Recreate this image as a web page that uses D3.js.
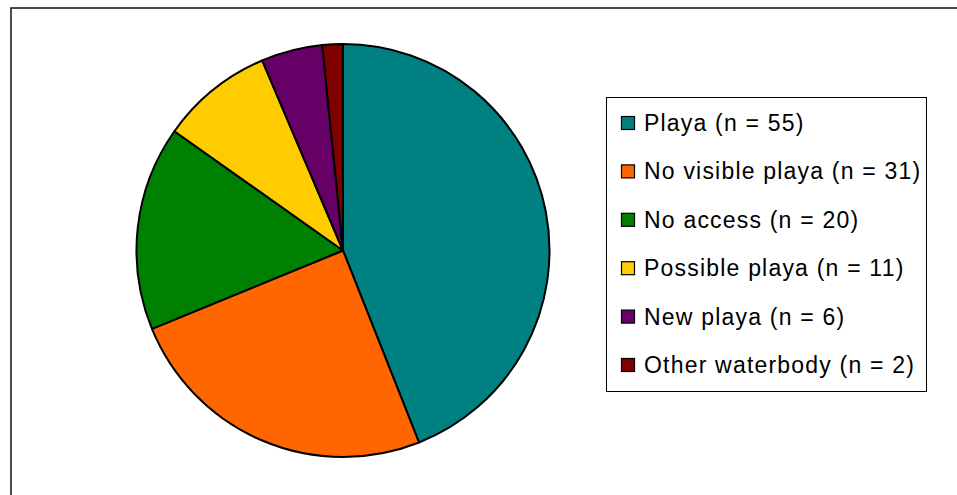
<!DOCTYPE html>
<html>
<head>
<meta charset="utf-8">
<script src="https://cdn.jsdelivr.net/npm/d3@7/dist/d3.min.js"></script>
<style>
  html, body { margin: 0; padding: 0; background: #fff; }
  svg { display: block; }
</style>
</head>
<body>
<script>
// Site classification counts
const categories = ["Playa", "No visible playa", "No access", "Possible playa", "New playa", "Other waterbody"];
const counts = [55, 31, 20, 11, 6, 2];
const colors = ["#008080", "#FF6600", "#008000", "#FFCC00", "#660066", "#800000"];

const W = 957, H = 495;
const svg = d3.select("body").append("svg").attr("width", W).attr("height", H);

// outer frame (extends past the right and bottom edges)
svg.append("rect")
  .attr("x", 11).attr("y", 8)
  .attr("width", 1000).attr("height", 600)
  .attr("fill", "none").attr("stroke", "#111").attr("stroke-width", 1.5);

const data = categories.map((c, i) => ({ name: c, value: counts[i], color: colors[i] }));

// pie, clockwise from 12 o'clock
const cx = 343, cy = 250.5, r = 206.5;
const pie = d3.pie().value(d => d.value).sort(null);
const arc = d3.arc().innerRadius(0).outerRadius(r);

svg.append("g")
  .attr("transform", `translate(${cx},${cy})`)
  .selectAll("path")
  .data(pie(data))
  .join("path")
  .attr("d", arc)
  .attr("fill", d => d.data.color)
  .attr("stroke", "#000")
  .attr("stroke-width", 2)
  .attr("stroke-linejoin", "round");

// legend
const lg = svg.append("g");
lg.append("rect")
  .attr("x", 606.5).attr("y", 97.5)
  .attr("width", 320).attr("height", 294)
  .attr("fill", "#fff").attr("stroke", "#000").attr("stroke-width", 1);

const rowY = d3.scalePoint().domain(categories).range([123, 365]);

const items = lg.selectAll("g.item").data(data).join("g")
  .attr("class", "item")
  .attr("transform", d => `translate(0,${rowY(d.name)})`);

items.append("rect")
  .attr("x", 621.5).attr("y", -6.5)
  .attr("width", 13).attr("height", 13)
  .attr("fill", d => d.color)
  .attr("stroke", "#000").attr("stroke-width", 1.2);

items.append("text")
  .attr("x", 644).attr("y", 8)
  .attr("font-family", "'Liberation Sans', Arial, sans-serif")
  .attr("font-size", 23)
  .attr("letter-spacing", 1.2)
  .attr("fill", "#000")
  .text(d => `${d.name} (n = ${d.value})`);
</script>
</body>
</html>
